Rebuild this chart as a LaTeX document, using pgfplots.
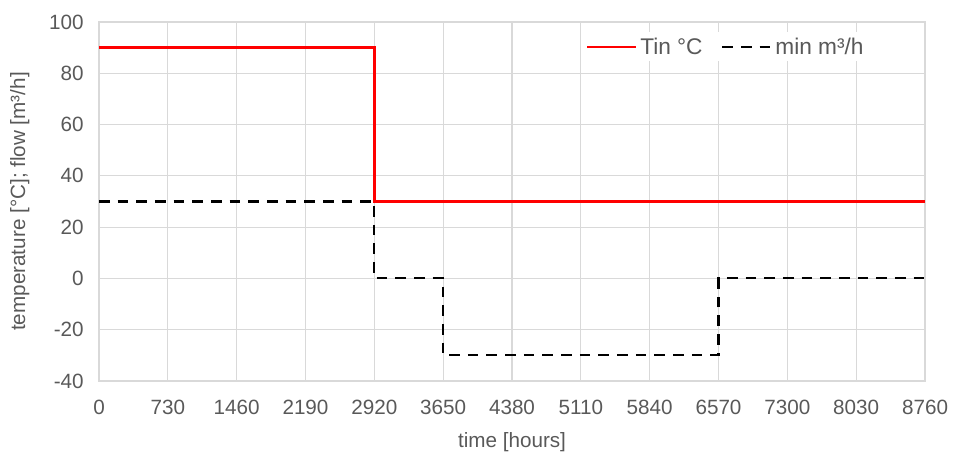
\documentclass[border=0pt]{standalone}
\usepackage{fontspec}
\setmainfont{Liberation Sans}
\usepackage{pgfplots}
\pgfplotsset{compat=1.18}
\definecolor{txt}{HTML}{595959}
\definecolor{grd}{HTML}{D9D9D9}
\begin{document}
\begin{tikzpicture}
\useasboundingbox (-74.25pt,-58.5pt) rectangle (640.5pt,285.75pt);
\begin{axis}[
  at={(0,0)}, anchor=south west,
  scale only axis, width=619.5pt, height=269.25pt,
  xmin=0, xmax=8760, ymin=-40, ymax=100,
  xtick={0,730,1460,2190,2920,3650,4380,5110,5840,6570,7300,8030,8760},
  ytick={-40,-20,0,20,40,60,80,100},
  /pgf/number format/1000 sep={},
  /pgf/number format/assume math mode=true,
  grid=major, grid style={grd, line width=0.8pt},
  axis line style={grd, line width=0.8pt},
  major tick length=0pt,
  tick label style={txt, font=\fontsize{15.5}{17}\selectfont},
  xticklabel style={yshift=-11pt},
  yticklabel style={xshift=-8pt},
  xlabel={time [hours]}, ylabel={temperature [°C]; flow [m³/h]},
  label style={txt, font=\fontsize{15.5}{17}\selectfont},
  xlabel style={yshift=-6pt},
  ylabel style={yshift=8pt},
  legend columns=2,
  legend style={at={(0.934,0.972)}, anchor=north east, draw=none, fill=white,
    font=\fontsize{17}{19}\selectfont, text=txt,
    /tikz/every even column/.append style={column sep=12pt}},
  legend image code/.code={\draw[#1] (0cm,0cm) -- (1.3cm,0cm);},
]
\addplot[red, line width=1.8pt, const plot] coordinates {(0,90) (2920,90) (2920,30) (8760,30)};
\addlegendentry{Tin °C}
\addplot[black, line width=1.6pt, dash pattern=on 8pt off 6pt] coordinates {(0,30) (2920,30) (2920,0) (3650,0) (3650,-30) (6570,-30) (6570,0) (8760,0)};
\addlegendentry{min m³/h}
\end{axis}
\end{tikzpicture}
\end{document}
